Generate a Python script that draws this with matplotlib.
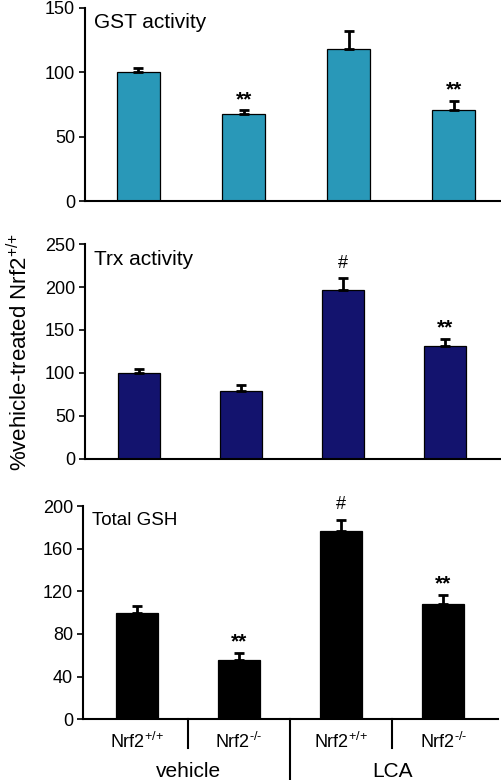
"""
Nrf2 panel bar chart: GST / Trx activity and total GSH, % of vehicle-treated Nrf2+/+
"""

import matplotlib
matplotlib.use('Agg')
import matplotlib.pyplot as plt
import numpy as np

plt.rcParams['font.family'] = ['Liberation Sans', 'DejaVu Sans']
plt.rcParams['mathtext.fontset'] = 'custom'
plt.rcParams['mathtext.rm'] = 'Liberation Sans'
plt.rcParams['mathtext.it'] = 'Liberation Sans'

# ---------------------------------------------------------
# data
# ---------------------------------------------------------
genotypes = [r'Nrf2$^{\text{+/+}}$', r'Nrf2$^{\text{-/-}}$', r'Nrf2$^{\text{+/+}}$', r'Nrf2$^{\text{-/-}}$']
treatments = ['vehicle', 'LCA']

gst_mean = [100, 68, 118, 71]
gst_err = [3.5, 2.5, 14, 7]
gst_marks = ['', '**', '', '**']

trx_mean = [100, 79, 196, 131]
trx_err = [5, 6.5, 14, 8.5]
trx_marks = ['', '', '#', '**']

gsh_mean = [100, 56, 177, 108]
gsh_err = [6, 6, 10, 8.5]
gsh_marks = ['', '**', '#', '**']

panels = [
    ('GST activity', gst_mean, gst_err, gst_marks, '#2998b8', [0, 50, 100, 150], 150),
    ('Trx activity', trx_mean, trx_err, trx_marks, '#13136e', [0, 50, 100, 150, 200, 250], 250),
    ('Total GSH', gsh_mean, gsh_err, gsh_marks, '#000000', [0, 40, 80, 120, 160, 200], 200),
]

# axes rectangles in figure fractions (502 x 780 px)
rects = [
    [0.169, 0.742, 0.827, 0.248],
    [0.169, 0.412, 0.827, 0.275],
    [0.165, 0.078, 0.828, 0.273],
]

fig = plt.figure(figsize=(5.02, 7.8), dpi=100)
x = np.arange(len(genotypes))

axes = []
for (title, mean, err, marks, color, ticks, ymax), rect in zip(panels, rects):
    ax = fig.add_axes(rect)
    ax.bar(x, mean, width=0.41, color=color, edgecolor='black', linewidth=0.9, zorder=2)
    ax.errorbar(x, mean, yerr=[np.zeros(len(err)), err], fmt='none', ecolor='black',
                elinewidth=2, capsize=3.5, capthick=2, zorder=3)
    for xi, m, e, s in zip(x, mean, err, marks):
        if s:
            ax.annotate(s, (xi, m + e), xytext=(0, 5 if s == '#' else 1), textcoords='offset points',
                        ha='center', va='bottom', fontsize=15 if s == '**' else 13,
                        fontweight='bold' if s == '**' else 'normal', annotation_clip=False)
    ax.set_ylim(0, ymax)
    ax.set_xlim(-0.53, 3.54)
    ax.set_yticks(ticks)
    ax.tick_params(axis='y', labelsize=13, length=4, width=1.2, direction='out', pad=3)
    ax.set_xticks([])
    for side in ('top', 'right'):
        ax.spines[side].set_visible(False)
    ax.spines['left'].set_linewidth(1.5)
    ax.spines['bottom'].set_linewidth(1.5)
    ax.text(0.022, 0.975, title, transform=ax.transAxes, ha='left', va='top',
            fontsize=15 if title != 'Total GSH' else 13.5)
    axes.append(ax)

axes[0].set_xlim(-0.51, 3.44)

# bottom panel category labels and separators
ax3 = axes[2]
ax3.set_xticks(x)
ax3.set_xticklabels(genotypes, fontsize=13)
ax3.tick_params(axis='x', length=0, pad=9)
trans = ax3.get_xaxis_transform()
for xs in [0.5, 2.5]:
    ax3.plot([xs, xs], [0, -0.135], color='black', lw=1.5, transform=trans, clip_on=False)
ax3.plot([1.5, 1.5], [0, -0.29], color='black', lw=1.5, transform=trans, clip_on=False)
for xc, lab in zip([0.5, 2.5], treatments):
    ax3.text(xc, -0.245, lab, transform=trans, ha='center', va='center', fontsize=15)

fig.text(0.04, 0.548, r'%vehicle-treated Nrf2$^{\text{+/+}}$', rotation=90, ha='center', va='center',
         fontsize=16)

plt.savefig('out.png', dpi=100, facecolor='white')
